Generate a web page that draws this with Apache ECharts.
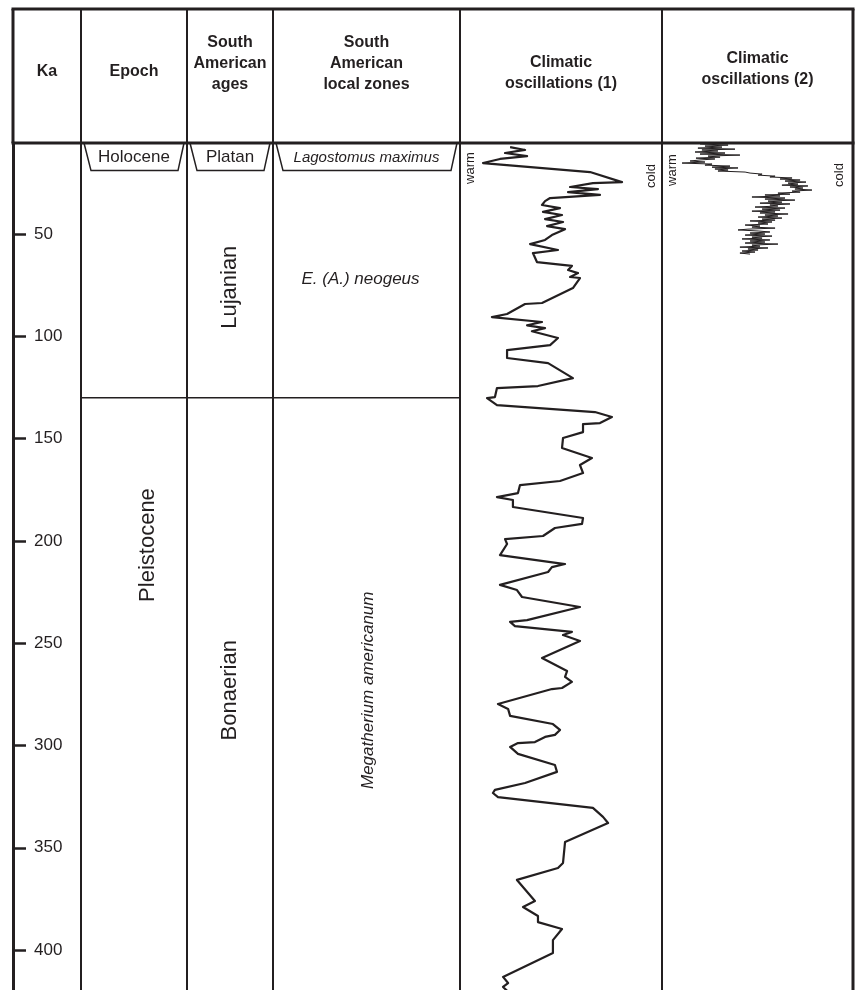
<!DOCTYPE html>
<html><head><meta charset="utf-8">
<script src="https://cdn.jsdelivr.net/npm/echarts@6/dist/echarts.min.js"></script>
<style>html,body{margin:0;padding:0;background:#fff}#c{width:856px;height:990px}</style>
</head><body><div id="c"></div>
<script>
// ---------------- data ----------------
const kaTicks = [50, 100, 150, 200, 250, 300, 350, 400];
const kaRange = [5.5, 419.5];
const columnTitles = ['Ka', 'Epoch', 'South\nAmerican\nages', 'South\nAmerican\nlocal zones', 'Climatic\noscillations (1)', 'Climatic\noscillations (2)'];
// [name, column (0 epoch, 1 ages, 2 zones), lower limit of label box (Ka), italic]
const topBoxes = [['Holocene', 0, 19, false], ['Platan', 1, 19, false], ['Lagostomus maximus', 2, 19, true]];
const unitBoundaryKa = [130];
// [name, column, label centre (Ka), orientation, italic]
const unitLabels = [
  ['Pleistocene', 0, 202, 'v', false],
  ['Lujanian', 1, 76, 'v', false],
  ['Bonaerian', 1, 273, 'v', false],
  ['E. (A.) neogeus', 2, 72, 'h', true],
  ['Megatherium americanum', 2, 273, 'v', true]
];
// [Ka, relative index 0 = warm .. 100 = cold]
const clim1 = [[7.5,24.8],[8.9,32.2],[10.4,22.3],[11.9,33.2],[13.3,19.8],[15.3,11.4],[19.7,64.4],[24.6,80.2],[25.1,65.8],[27.0,54.5],[28.0,68.3],[29.5,53.5],[30.9,69.3],[32.4,44.6],[33.9,42.1],[35.8,40.6],[37.3,49.5],[39.2,41.1],[40.7,50.5],[42.7,42.1],[44.1,51.0],[46.1,43.1],[47.6,52.0],[50.5,45.5],[52.9,42.1],[54.9,34.7],[57.8,48.5],[59.3,36.1],[63.7,38.1],[65.6,55.4],[67.6,53.5],[69.1,58.4],[71.0,54.5],[71.5,59.4],[76.4,55.9],[83.7,40.6],[84.2,32.2],[89.1,23.3],[90.6,15.8],[93.0,40.6],[94.6,33.2],[96.0,42.1],[97.5,35.6],[100.8,48.5],[104.3,44.6],[106.7,23.3],[110.6,23.3],[113.1,43.6],[120.4,55.9],[124.3,38.6],[125.3,18.3],[129.7,17.3],[130.2,13.4],[133.6,18.3],[137.0,66.8],[139.4,75.2],[142.4,69.3],[142.9,60.9],[146.8,60.9],[149.7,51.0],[154.6,50.5],[159.5,65.3],[162.9,59.4],[166.8,60.9],[170.7,49.5],[172.7,29.7],[176.6,28.7],[178.6,18.3],[180.0,26.2],[183.4,26.2],[188.8,60.9],[191.7,60.4],[193.7,47.0],[197.6,41.1],[199.1,22.3],[201.5,23.3],[206.9,19.8],[211.3,52.0],[212.8,45.5],[215.2,43.6],[221.5,19.8],[224.0,28.2],[227.4,30.7],[232.3,59.4],[238.7,33.2],[239.6,24.8],[241.6,27.2],[244.5,55.4],[246.0,51.0],[248.9,59.4],[257.2,40.6],[263.6,53.0],[266.5,52.0],[268.9,55.4],[271.9,50.5],[272.4,45.5],[279.7,18.8],[282.1,23.8],[285.5,24.8],[289.5,46.0],[292.4,49.5],[294.8,47.0],[295.8,42.1],[298.3,37.1],[298.8,28.7],[300.7,24.8],[304.1,28.7],[309.5,47.0],[312.9,48.0],[318.3,32.2],[321.7,17.3],[323.2,16.3],[325.2,18.8],[330.5,65.8],[334.9,70.8],[337.9,73.3],[347.2,52.0],[357.4,51.0],[359.9,48.5],[365.7,28.2],[376.0,37.1],[378.9,31.2],[383.3,38.6],[386.3,38.6],[389.7,50.5],[395.1,46.0],[401.4,46.0],[413.1,21.3],[416.1,23.8],[418.0,21.3],[420.5,24.0]];
const clim2 = [[6.0,19.9],[6.5,34.6],[7.0,22.5],[7.5,31.4],[8.0,18.8],[8.5,38.2],[8.9,20.9],[9.4,29.3],[9.9,17.3],[10.4,33.0],[10.9,19.9],[11.4,40.8],[11.9,24.1],[12.4,30.4],[12.9,17.8],[13.3,27.7],[13.8,19.9],[14.3,14.7],[14.8,22.5],[15.3,10.5],[15.8,26.2],[16.3,22.5],[16.8,35.6],[17.3,26.2],[17.7,39.8],[18.2,27.7],[18.7,34.6],[19.2,29.3],[19.7,43.5],[20.2,46.1],[20.7,52.4],[21.2,50.3],[21.7,59.2],[22.1,56.5],[22.6,68.1],[23.1,61.8],[23.6,72.3],[24.1,64.4],[24.6,75.4],[25.1,66.0],[25.6,71.2],[26.1,62.8],[26.5,76.4],[27.0,67.0],[27.5,73.8],[28.0,69.6],[28.5,78.5],[29.0,68.1],[29.5,72.3],[30.0,60.7],[30.5,67.0],[30.9,53.9],[31.4,61.8],[31.9,47.1],[32.4,64.4],[32.9,53.9],[33.4,69.6],[33.9,55.5],[34.4,62.8],[34.9,51.3],[35.3,67.0],[35.8,56.5],[36.3,60.7],[36.8,48.7],[37.3,64.4],[37.8,52.4],[38.3,61.8],[38.8,47.1],[39.2,59.2],[39.7,51.3],[40.2,66.0],[40.7,53.9],[41.2,60.7],[41.7,50.3],[42.2,62.8],[42.7,52.4],[43.2,59.2],[43.6,46.1],[44.1,57.6],[44.6,50.3],[45.1,55.5],[45.6,43.5],[46.1,51.3],[46.6,47.1],[47.1,59.2],[47.6,45.0],[48.0,39.8],[48.5,50.3],[49.0,56.5],[49.5,46.1],[50.0,53.9],[50.5,43.5],[51.0,57.6],[51.5,47.1],[52.0,52.4],[52.4,41.9],[52.9,56.5],[53.4,46.1],[53.9,53.9],[54.4,43.5],[54.9,60.7],[55.4,47.1],[55.9,51.3],[56.4,40.8],[56.8,55.5],[57.3,45.0],[57.8,50.3],[58.3,41.9],[58.8,48.7],[59.3,40.8],[59.8,46.1]];

// ---------------- layout ----------------
const INK = '#231f20';
const FONT = '"Liberation Sans", Arial, Helvetica, sans-serif';
const COLX = [13, 81, 187, 273, 460, 662, 853];
const TOP = 9, HEAD = 143;
const LABEL_DX = {'Pleistocene': 14, 'E. (A.) neogeus': -6, 'Megatherium americanum': 2};

const chart = echarts.init(document.getElementById('c'), null, {renderer: 'canvas'});

function colCentre(c) { return (COLX[c + 1] + COLX[c + 2]) / 2; }

const graphics = [];
// frame lines
function hline(y, x0, x1, w) { graphics.push({type: 'line', shape: {x1: x0, y1: y, x2: x1, y2: y}, style: {stroke: INK, lineWidth: w}, z: 10}); }
function vline(x, y0, y1, w) { graphics.push({type: 'line', shape: {x1: x, y1: y0, x2: x, y2: y1}, style: {stroke: INK, lineWidth: w}, z: 10}); }
hline(TOP, COLX[0] - 1.5, COLX[6] + 1.5, 3);
hline(HEAD, COLX[0] - 1.5, COLX[6] + 1.5, 3);
vline(COLX[0], TOP, HEAD, 3);
vline(COLX[6], TOP, 990, 3);
for (let i = 1; i < 6; i++) vline(COLX[i], TOP, 990, 2);
// header titles
const titleY = [72, 72, 64, 64, 73, 69];
columnTitles.forEach((t, i) => {
  graphics.push({type: 'text', x: (COLX[i] + COLX[i + 1]) / 2, y: titleY[i], z: 10,
    style: {text: t, fontSize: 16, fontWeight: 'bold', fontFamily: FONT, fill: INK, align: 'center', verticalAlign: 'middle', lineHeight: 21}});
});
// warm / cold captions
[[470, 168, 'warm'], [651, 176, 'cold'], [672, 170, 'warm'], [839, 175, 'cold']].forEach(w => {
  graphics.push({type: 'text', x: w[0], y: w[1], rotation: Math.PI / 2, z: 10,
    style: {text: w[2], fontSize: 13, fontFamily: FONT, fill: INK, align: 'center', verticalAlign: 'middle'}});
});

const yHidden = (g) => ({gridIndex: g, type: 'value', inverse: true, min: kaRange[0], max: kaRange[1], show: false});

const option = {
  animation: false,
  backgroundColor: '#fff',
  grid: [
    {left: COLX[0], right: 856 - COLX[6], top: HEAD, bottom: 0},
    {left: COLX[4], width: COLX[5] - COLX[4], top: HEAD, bottom: 0},
    {left: COLX[5], width: COLX[6] - COLX[5], top: HEAD, bottom: 0}
  ],
  xAxis: [
    {gridIndex: 0, type: 'value', min: 0, max: 1, show: false},
    {gridIndex: 1, type: 'value', min: 0, max: 100, show: false},
    {gridIndex: 2, type: 'value', min: 0, max: 100, show: false}
  ],
  yAxis: [
    {gridIndex: 0, type: 'value', inverse: true, min: kaRange[0], max: kaRange[1],
      axisLine: {show: true, lineStyle: {color: INK, width: 3}},
      axisTick: {show: true, inside: true, length: 13, customValues: kaTicks, lineStyle: {color: INK, width: 2.5}},
      axisLabel: {show: true, inside: true, margin: 21, customValues: kaTicks, fontSize: 17, color: INK, fontFamily: FONT},
      splitLine: {show: false}},
    yHidden(1), yHidden(2)
  ],
  series: [
    {type: 'line', xAxisIndex: 1, yAxisIndex: 1, data: clim1.map(d => [d[1], d[0]]), showSymbol: false, symbol: 'none',
      lineStyle: {color: INK, width: 2.2, join: 'round'}, clip: true},
    {type: 'line', xAxisIndex: 2, yAxisIndex: 2, data: clim2.map(d => [d[1], d[0]]), showSymbol: false, symbol: 'none',
      lineStyle: {color: INK, width: 1}, clip: true},
    {type: 'custom', xAxisIndex: 0, yAxisIndex: 0, data: topBoxes.map(b => [0, b[2]]), clip: false,
      renderItem: function (params, api) {
        const b = topBoxes[params.dataIndex];
        const x0 = COLX[b[1] + 1], x1 = COLX[b[1] + 2];
        const yTop = api.coord([0, kaRange[0]])[1];
        const yBot = api.coord([0, b[2]])[1];
        return {type: 'group', children: [
          {type: 'polyline', shape: {points: [[x0 + 3, yTop], [x0 + 10, yBot], [x1 - 9, yBot], [x1 - 3, yTop]]},
            style: {stroke: INK, lineWidth: 1.5, fill: null}},
          {type: 'text', x: (x0 + x1) / 2, y: (yTop + yBot) / 2 + 1,
            style: {text: b[0], fontSize: b[3] ? 15 : 17, fontStyle: b[3] ? 'italic' : 'normal', fontFamily: FONT, fill: INK, align: 'center', verticalAlign: 'middle'}}
        ]};
      }},
    {type: 'custom', xAxisIndex: 0, yAxisIndex: 0, data: unitBoundaryKa.map(k => [0, k]), clip: false,
      renderItem: function (params, api) {
        const y = api.coord([0, api.value(1)])[1];
        return {type: 'line', shape: {x1: COLX[1], y1: y, x2: COLX[4], y2: y}, style: {stroke: INK, lineWidth: 1.5}};
      }},
    {type: 'custom', xAxisIndex: 0, yAxisIndex: 0, data: unitLabels.map(l => [0, l[2]]), clip: false,
      renderItem: function (params, api) {
        const l = unitLabels[params.dataIndex];
        const y = api.coord([0, l[2]])[1];
        const x = colCentre(l[1]) + (LABEL_DX[l[0]] || 0);
        const italic = l[4];
        return {type: 'text', x: x, y: y, rotation: l[3] === 'v' ? Math.PI / 2 : 0,
          style: {text: l[0], fontSize: italic ? 17 : 22, fontStyle: italic ? 'italic' : 'normal', fontFamily: FONT, fill: INK, align: 'center', verticalAlign: 'middle'}};
      }}
  ],
  graphic: graphics
};
chart.setOption(option);
</script></body></html>
